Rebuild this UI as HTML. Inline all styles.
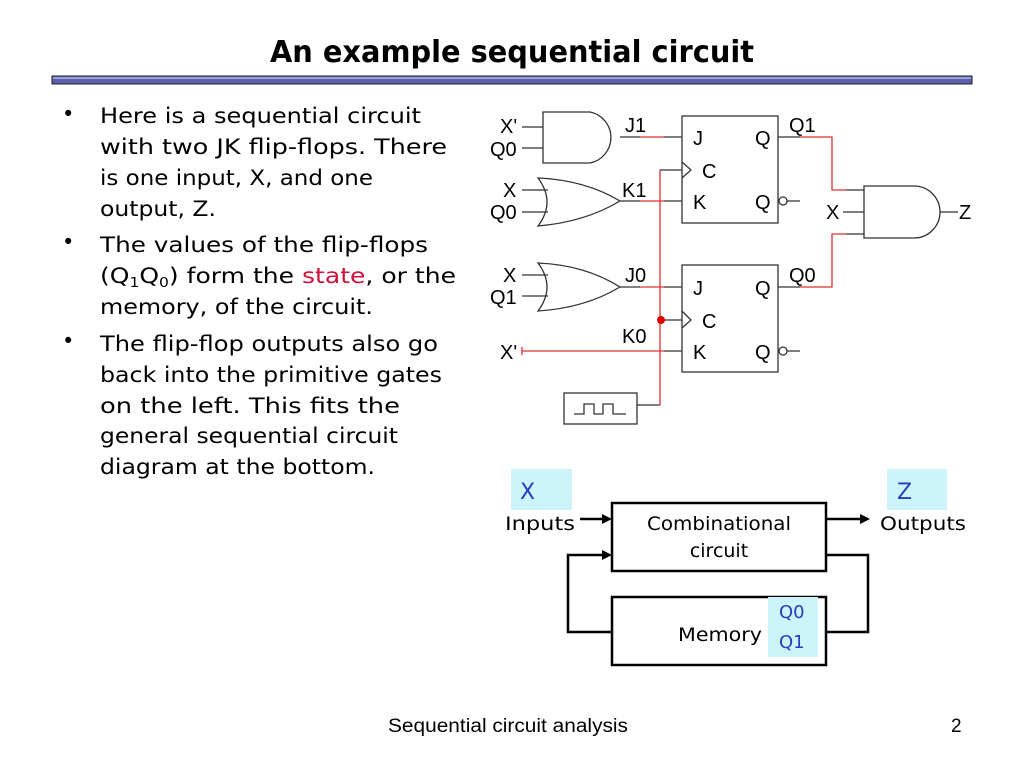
<!DOCTYPE html>
<html><head><meta charset="utf-8"><style>html,body{margin:0;padding:0;background:#fff}svg{display:block}</style></head>
<body>
<svg width="1024" height="768" viewBox="0 0 1024 768" xmlns="http://www.w3.org/2000/svg" font-family="'DejaVu Sans','Liberation Sans',sans-serif">
<text x="512" y="62" text-anchor="middle" font-size="30" font-weight="bold" textLength="484" lengthAdjust="spacingAndGlyphs">An example sequential circuit</text>
<rect x="52" y="76" width="920" height="8" fill="#5a5fae" stroke="#222" stroke-width="1"/>
<rect x="53" y="77" width="918" height="2" fill="#9aa0d8"/>
<g font-size="21" fill="#000">
<text x="62" y="121">•</text><text x="62" y="249">•</text><text x="62" y="348">•</text>
<text x="100" y="123" textLength="321" lengthAdjust="spacingAndGlyphs">Here is a sequential circuit</text>
<text x="100" y="154" textLength="347" lengthAdjust="spacingAndGlyphs">with two JK flip-flops. There</text>
<text x="100" y="185" textLength="273" lengthAdjust="spacingAndGlyphs">is one input, X, and one</text>
<text x="100" y="216" textLength="116" lengthAdjust="spacingAndGlyphs">output, Z.</text>
<text x="100" y="252" textLength="328" lengthAdjust="spacingAndGlyphs">The values of the flip-flops</text>
<text x="100" y="283" textLength="356" lengthAdjust="spacingAndGlyphs">(Q<tspan font-size="13" dy="4">1</tspan><tspan dy="-4">Q</tspan><tspan font-size="13" dy="4">0</tspan><tspan dy="-4">) form the </tspan><tspan fill="#d0103a">state</tspan>, or the</text>
<text x="100" y="314" textLength="273" lengthAdjust="spacingAndGlyphs">memory, of the circuit.</text>
<text x="100" y="351" textLength="338" lengthAdjust="spacingAndGlyphs">The flip-flop outputs also go</text>
<text x="100" y="382" textLength="342" lengthAdjust="spacingAndGlyphs">back into the primitive gates</text>
<text x="100" y="413" textLength="300" lengthAdjust="spacingAndGlyphs">on the left. This fits the</text>
<text x="100" y="443" textLength="298" lengthAdjust="spacingAndGlyphs">general sequential circuit</text>
<text x="100" y="474" textLength="275" lengthAdjust="spacingAndGlyphs">diagram at the bottom.</text>
</g>
<g stroke="#333" stroke-width="1.3" fill="none">
<path d="M543 112 H590 A26 26 0 0 1 590 163 H543 Z"/>
<path d="M538 178 Q585 180 620 201 Q585 222 538 226 Q556 202 538 178 Z"/>
<path d="M538 263 Q585 265 620 287 Q585 308 538 311 Q556 287 538 263 Z"/>
<path d="M864 186 H914 A26 26 0 0 1 914 238 H864 Z"/>
<path d="M522 127 H543 M522 148 H543 M522 190 H548 M522 212 H548 M522 275 H548 M522 296 H548"/>
<rect x="682" y="116" width="96" height="107"/>
<rect x="682" y="265" width="96" height="107"/>
<path d="M682 162 L691 170 L682 178 M682 311 L691 320 L682 328"/>
<circle cx="783" cy="201" r="4"/><circle cx="783" cy="351" r="4"/>
<path d="M787 201 H800 M787 351 H800"/>
<path d="M620 137 H640 M664 137 H682 M620 201 H640 M664 201 H682 M620 287 H640 M664 287 H682 M664 351 H682 M660 170 H682 M660 320 H682"/>
<path d="M778 137 H800 M778 287 H800 M846 190 H864 M846 234 H864 M843 212 H864 M940 212 H958"/>
<rect x="564" y="393" width="73" height="31"/>
<path d="M574 414 H584 V404 H594 V414 H603 V404 H613 V414 H626"/>
<path d="M637 405 H660"/>
</g>
<g stroke="#e03030" stroke-width="1.3" fill="none">
<path d="M640 137 H664 M640 201 H664 M640 287 H664"/>
<path d="M522 351 H664 M522 347 V355"/>
<path d="M660 170 V405"/>
<path d="M800 137 H832 V190 H846 M800 287 H832 V234 H846"/>
</g>
<circle cx="661" cy="320" r="4" fill="#e00000"/>
<g font-family="'Liberation Sans',sans-serif" font-size="20" fill="#000">
<text x="500" y="133">X'</text><text x="490" y="156">Q0</text>
<text x="503" y="197">X</text><text x="490" y="219">Q0</text>
<text x="503" y="282">X</text><text x="490" y="304">Q1</text>
<text x="500" y="359">X'</text>
<text x="625" y="132">J1</text><text x="622" y="197">K1</text><text x="625" y="282">J0</text><text x="622" y="343">K0</text>
<text x="693" y="145">J</text><text x="702" y="178">C</text><text x="693" y="209">K</text>
<text x="755" y="145">Q</text><text x="755" y="209">Q</text>
<text x="693" y="295">J</text><text x="702" y="328">C</text><text x="693" y="359">K</text>
<text x="755" y="295">Q</text><text x="755" y="359">Q</text>
<text x="789" y="132">Q1</text><text x="789" y="282">Q0</text>
<text x="826" y="219">X</text><text x="959" y="219">Z</text>
</g>
<rect x="511" y="469" width="61" height="41" fill="#cdf3fb"/>
<rect x="887" y="469" width="60" height="41" fill="#cdf3fb"/>
<g font-size="22" fill="#2a3cc0"><text x="520" y="499">X</text><text x="897" y="499">Z</text></g>
<g stroke="#000" stroke-width="2.5" fill="none">
<rect x="612" y="503" width="214" height="68"/>
<rect x="612" y="597" width="214" height="68"/>
<path d="M580 519 H604 M826 519 H862 M612 632 H568 V555 H604 M826 555 H868 V632 H826"/>
</g>
<g fill="#000"><path d="M612 519 L602 514 L602 524 Z M870 519 L860 514 L860 524 Z M612 555 L602 550 L602 560 Z"/></g>
<rect x="768" y="597" width="50" height="60" fill="#cdf3fb"/>
<g font-size="19" fill="#000">
<text x="505" y="530" textLength="70" lengthAdjust="spacingAndGlyphs">Inputs</text>
<text x="880" y="530" textLength="86" lengthAdjust="spacingAndGlyphs">Outputs</text>
<text x="719" y="530" text-anchor="middle" textLength="144" lengthAdjust="spacingAndGlyphs">Combinational</text>
<text x="719" y="557" text-anchor="middle">circuit</text>
<text x="678" y="641" textLength="84" lengthAdjust="spacingAndGlyphs">Memory</text>
</g>
<g font-size="18" fill="#2a3cc0"><text x="779" y="618">Q0</text><text x="779" y="648">Q1</text></g>
<g font-family="'Liberation Sans',sans-serif" font-size="19" fill="#000">
<text x="508" y="732" text-anchor="middle" textLength="240" lengthAdjust="spacingAndGlyphs">Sequential circuit analysis</text>
<text x="951" y="732">2</text>
</g>
</svg>
</body></html>
